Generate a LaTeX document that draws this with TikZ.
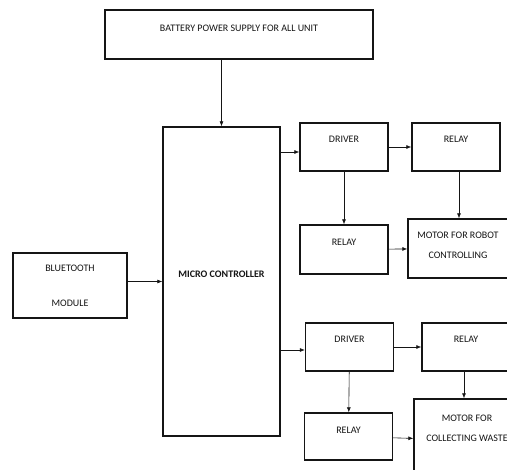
\documentclass[tikz,border=0pt]{standalone}
\usepackage{fontspec}
\setmainfont{Carlito}
\usetikzlibrary{positioning, arrows.meta, calc}
\definecolor{ink}{HTML}{151515}
\tikzset{
  every node/.style = {font=\fontsize{10}{12}\selectfont, text=ink},
  bkbox/.style   = {draw=ink, line width=1.4pt, fill=white, align=center, inner sep=0pt,
                    text height=7pt, text depth=0pt},
  bkunit/.style  = {bkbox, minimum width=88pt, minimum height=48pt, text depth=16pt},
  bkgo/.style    = {-{Latex[length=5pt,width=4pt]}, draw=ink, line width=0.6pt},
}
\begin{document}
\begin{tikzpicture}[x=1pt, y=-1pt]
\clip (0,0) rectangle (507,470);
\fill[white] (0,0) rectangle (507,470);

\node[bkbox, minimum width=268pt, minimum height=49pt, text depth=13pt] (batt) at (239,34.5)
  {BATTERY POWER SUPPLY FOR ALL UNIT};
\node[bkbox, minimum width=117pt, minimum height=309pt, text depth=14pt, font=\fontsize{10}{12}\selectfont\bfseries] (mcu) at (221.5,281.5)
  {MICRO CONTROLLER};
\node[bkbox, minimum width=114pt, minimum height=65pt, text height=42pt] (blue) at (70,285.5)
  {BLUETOOTH\\[23pt]MODULE};

% robot motor branch
\node[bkunit] (drva) at (344,147)   {DRIVER};
\node[bkunit] (rlya) at (456,147)   {RELAY};
\node[bkunit, minimum height=49pt, text depth=14pt] (rlyb) at (344,249.5) {RELAY};
\node[bkbox, minimum width=100pt, minimum height=59pt, text height=27pt, text depth=7pt] (mota) at (458,248.5)
  {MOTOR FOR ROBOT\\[8pt]CONTROLLING};

% waste motor branch
\node[bkunit] (drvb) at (349.5,347) {DRIVER};
\node[bkunit] (rlyc) at (466,347)   {RELAY};
\node[bkunit, minimum height=47pt, text depth=13pt] (rlyd) at (348.5,436.5) {RELAY};
\node[bkbox, minimum width=106pt, minimum height=82pt, text height=27pt, text depth=24pt] (motb) at (467,440)
  {MOTOR FOR\\[8pt]COLLECTING WASTE};

\draw[bkgo] (mcu.north |- batt.south) -- (mcu.north);
\draw[bkgo] ([yshift=-5pt]drva.west -| mcu.east) -- ([yshift=-5pt]drva.west);
\draw[bkgo] ([yshift=4pt]blue.east) -- ([yshift=4pt]blue.east -| mcu.west);
\draw[bkgo] ([yshift=-3pt]drvb.west -| mcu.east) -- ([yshift=-3pt]drvb.west);
\foreach \a/\b in {drva/rlya, drva/rlyb, rlyb/mota, drvb/rlyc, drvb/rlyd, rlyd/motb}{\draw[bkgo] (\a) -- (\b);}
\draw[bkgo] ([xshift=3pt]rlya.south) -- ([xshift=3pt]rlya.south |- mota.north);
\draw[bkgo] ([xshift=-2pt]rlyc.south) -- ([xshift=-2pt]rlyc.south |- motb.north);
\end{tikzpicture}
\end{document}
